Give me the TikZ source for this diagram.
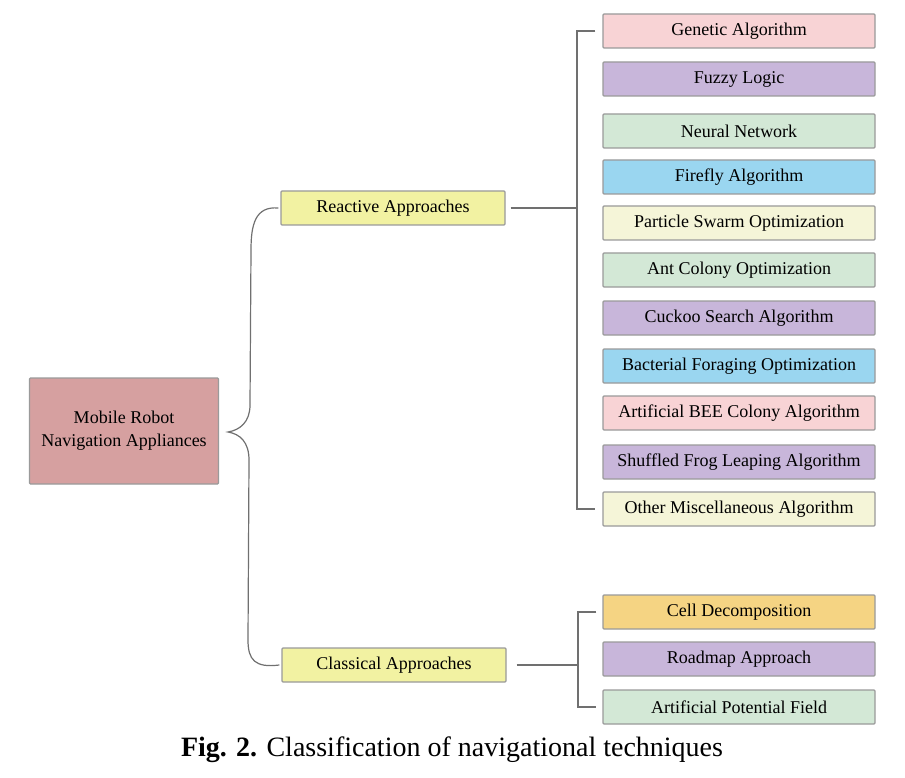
\documentclass[tikz,border=0pt]{standalone}
\usepackage{fontspec}
\setmainfont{Liberation Serif}
\definecolor{cpink}{HTML}{F8D3D5}
\definecolor{cpurple}{HTML}{C8B6DA}
\definecolor{cgreen}{HTML}{D3E8D6}
\definecolor{cblue}{HTML}{9AD6F0}
\definecolor{ccream}{HTML}{F5F5D8}
\definecolor{corange}{HTML}{F5D483}
\definecolor{cyellow}{HTML}{F2F2A2}
\definecolor{croot}{HTML}{D6A0A0}
\definecolor{cedge}{HTML}{9A9A9A}
\definecolor{cline}{HTML}{707070}
\begin{document}
\begin{tikzpicture}[x=1pt,y=-1pt,
  box/.style={draw=cedge,line width=1.3pt,rounded corners=1pt,inner sep=0pt,
    font=\fontsize{18}{23}\selectfont,align=center},
  leaf/.style={box,minimum width=272pt,minimum height=34pt},
  mid/.style={box,fill=cyellow,minimum width=224pt,minimum height=34pt},
  conn/.style={draw=cline,line width=1.4pt}]
\useasboundingbox (0,0) rectangle (905,778);
\node[box,fill=croot,minimum width=189pt,minimum height=106pt] (root) at (124,431) {Mobile Robot\\Navigation Appliances};
\node[mid] (rea) at (393,208) {Reactive Approaches};
\node[mid] (cla) at (394,665) {Classical Approaches};
\node[leaf,fill=cpink] (l1) at (739,31) {Genetic Algorithm};
\node[leaf,fill=cpurple] (l2) at (739,79) {Fuzzy Logic};
\node[leaf,fill=cgreen] (l3) at (739,131) {Neural Network};
\node[leaf,fill=cblue] (l4) at (739,177) {Firefly Algorithm};
\node[leaf,fill=ccream] (l5) at (739,223) {Particle Swarm Optimization};
\node[leaf,fill=cgreen] (l6) at (739,270) {Ant Colony Optimization};
\node[leaf,fill=cpurple] (l7) at (739,318) {Cuckoo Search Algorithm};
\node[leaf,fill=cblue] (l8) at (739,366) {Bacterial Foraging Optimization};
\node[leaf,fill=cpink] (l9) at (739,413) {Artificial BEE Colony Algorithm};
\node[leaf,fill=cpurple] (l10) at (739,462) {Shuffled Frog Leaping Algorithm};
\node[leaf,fill=ccream] (l11) at (739,509) {Other Miscellaneous Algorithm};
\node[leaf,fill=corange] (c1) at (739,612) {Cell Decomposition};
\node[leaf,fill=cpurple] (c2) at (739,659) {Roadmap Approach};
\node[leaf,fill=cgreen] (c3) at (739,707) {Artificial Potential Field};
\node[font=\fontsize{28}{32}\selectfont] (cap) at (452,750) {\textbf{Fig. 2.} Classification of navigational techniques};
% brackets
\coordinate (rt) at (577,31);
\coordinate (rb) at (577,509);
\coordinate (ct) at (578,612);
\coordinate (cb) at (578,707);
\draw[conn] (rea.east) ++(5,0) -- (577,208);
\draw[conn] ([xshift=-7pt]l1.west) -- (rt) -- (rb) -- ([xshift=-7pt]l11.west);
\draw[conn] (cla.east) ++(10,0) -- (578,665);
\draw[conn] ([xshift=-6pt]c1.west) -- (ct) -- (cb) -- ([xshift=-6pt]c3.west);
% curly brace
\coordinate (tip) at (228,432);
\draw[conn,line width=1.2pt] ([xshift=-2pt]rea.west) .. controls (255,206) and (251,225) .. (251,250)
  -- (250,405) .. controls (250,422) and (240,430) .. (tip)
  .. controls (240,434) and (249,442) .. (249,460)
  -- (248,640) .. controls (248,660) and (255,668) .. ([xshift=-2pt]cla.west);
\end{tikzpicture}
\end{document}
